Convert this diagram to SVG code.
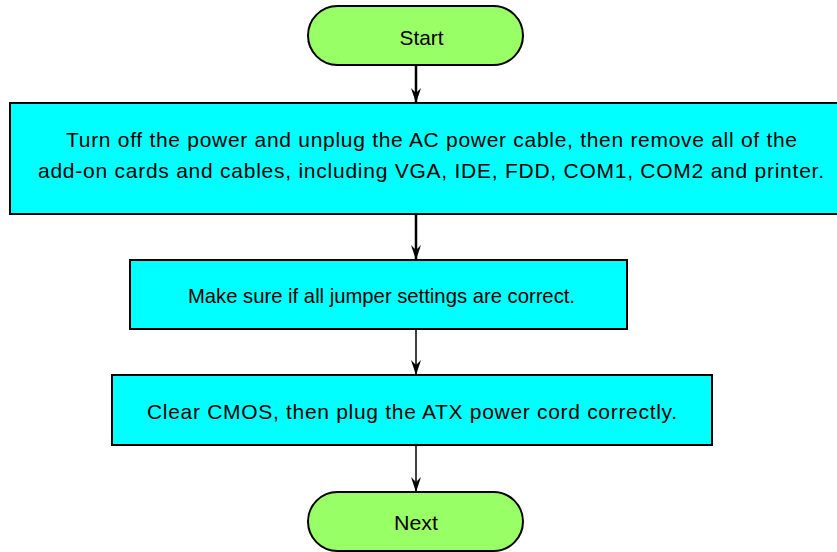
<svg xmlns="http://www.w3.org/2000/svg" width="837" height="552" viewBox="0 0 837 552">
<defs>
<style>
.term{fill:#99ff66;stroke:#000;stroke-width:2}
.box{fill:#00ffff;stroke:#000;stroke-width:2}
.t{font-family:"Liberation Sans",Arial,sans-serif;font-size:21px;fill:#000;text-anchor:middle;dominant-baseline:central}
.c{stroke:#000;stroke-width:2;fill:none;marker-end:url(#ah)}
</style>
<marker id="ah" viewBox="0 0 15 10" refX="15" refY="5" markerWidth="15" markerHeight="10" markerUnits="userSpaceOnUse" orient="auto">
<path d="M0,0 L15,5 L0,10 L5,5 Z" fill="#000"/>
</marker>
</defs>
<g id="connectors">
<line class="c" x1="416" y1="65" x2="416" y2="103" style="stroke-width:2.5"/>
<line class="c" x1="416" y1="214" x2="416" y2="260" style="stroke-width:2.5"/>
<line class="c" x1="416" y1="329" x2="416" y2="375" style="stroke-width:1.5"/>
<line class="c" x1="416" y1="445" x2="416" y2="492" style="stroke-width:1.5"/>
</g>
<g id="start">
<rect class="term" x="308" y="6" width="215" height="59" rx="29.5"/>
<text class="t" x="421.5" y="37" textLength="44" lengthAdjust="spacingAndGlyphs">Start</text>
</g>
<g id="step1">
<rect class="box" x="10" y="103" width="829" height="111"/>
<text class="t" x="431.5" y="139" textLength="731">Turn off the power and unplug the AC power cable, then remove all of the</text>
<text class="t" x="431" y="170" textLength="786">add-on cards and cables, including VGA, IDE, FDD, COM1, COM2 and printer.</text>
</g>
<g id="step2">
<rect class="box" x="130" y="260" width="497" height="69"/>
<text class="t" x="381.5" y="295" textLength="387" lengthAdjust="spacingAndGlyphs">Make sure if all jumper settings are correct.</text>
</g>
<g id="step3">
<rect class="box" x="112" y="375" width="600" height="70"/>
<text class="t" x="412" y="411" textLength="530">Clear CMOS, then plug the ATX power cord correctly.</text>
</g>
<g id="next">
<rect class="term" x="308" y="492" width="215" height="59" rx="29.5"/>
<text class="t" x="416" y="522" textLength="44" lengthAdjust="spacingAndGlyphs">Next</text>
</g>
</svg>
